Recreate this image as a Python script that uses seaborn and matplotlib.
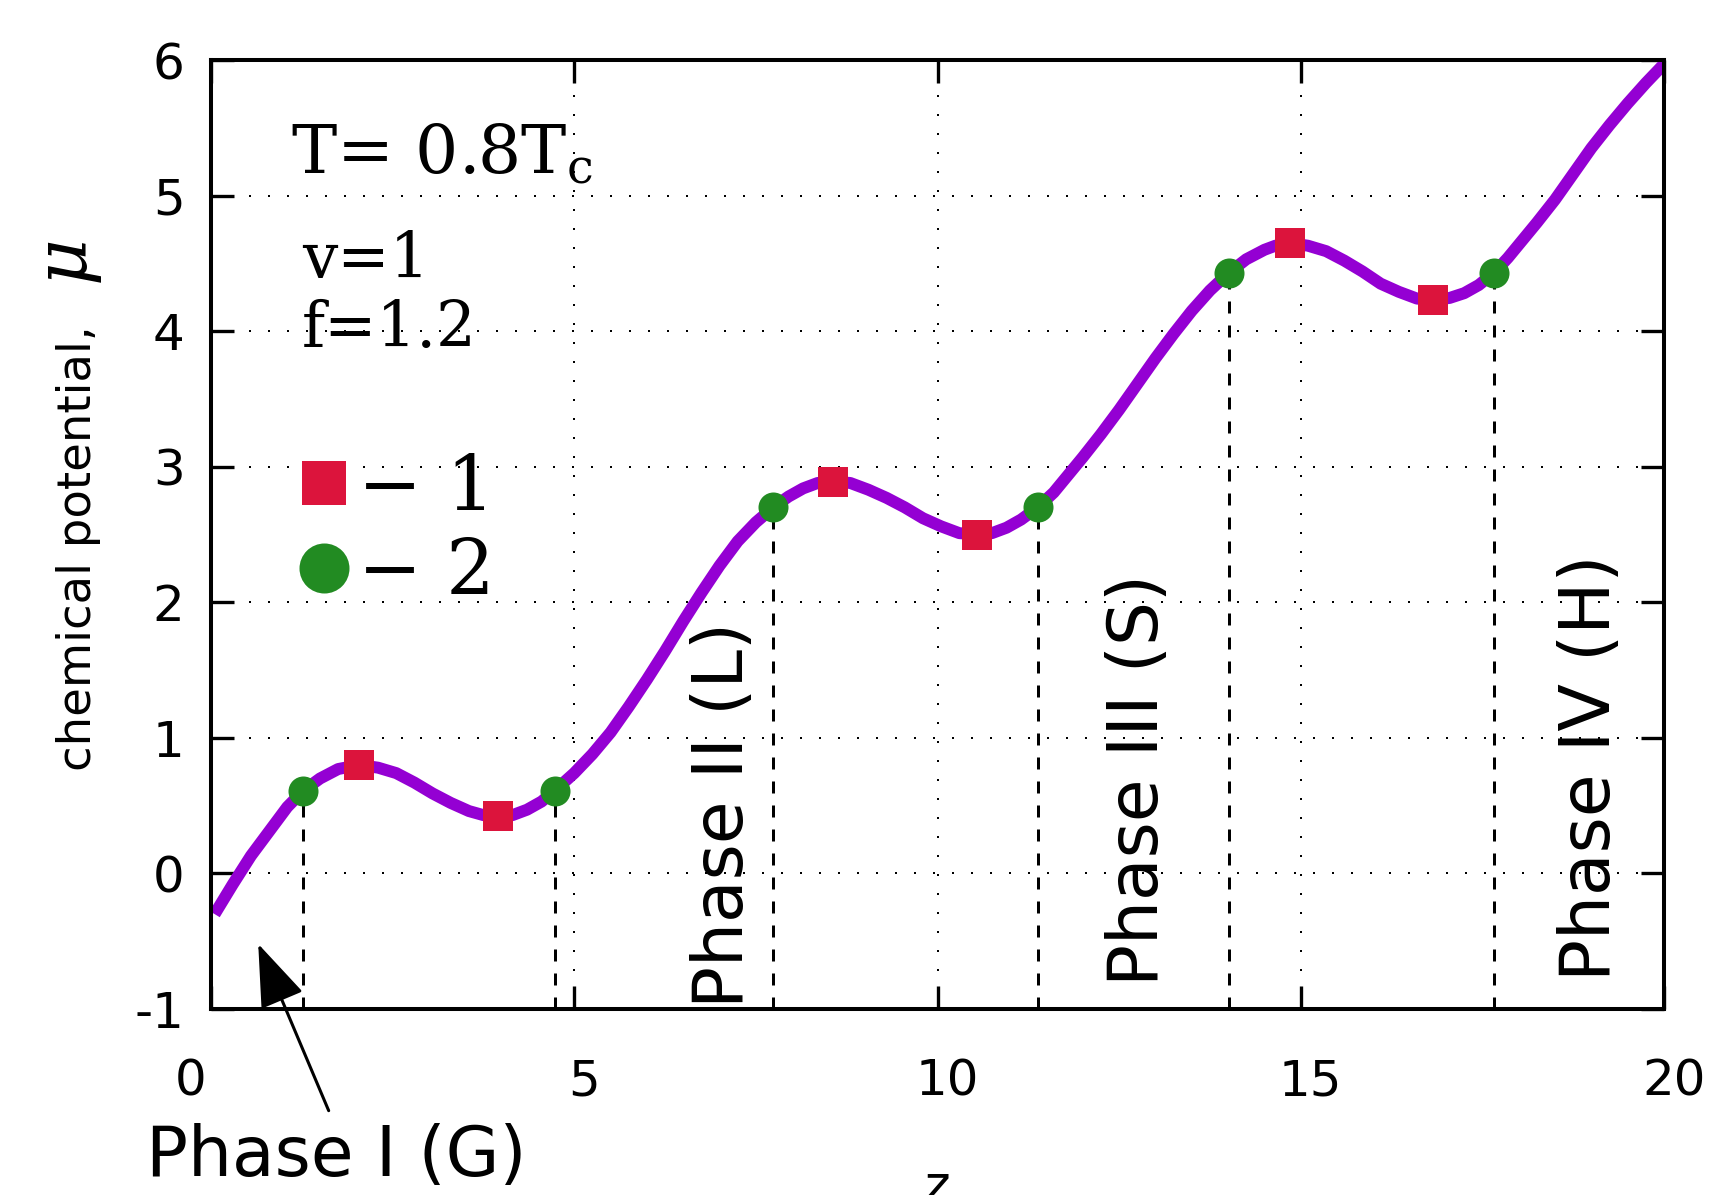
import matplotlib
matplotlib.use("Agg")
import matplotlib.pyplot as plt
import seaborn as sns
from matplotlib.lines import Line2D
from matplotlib.patches import ArrowStyle
from matplotlib.transforms import ScaledTranslation
from matplotlib import font_manager as fm

# ---------------- data ----------------
curve_z = [0.05, 0.30, 0.55, 0.80, 1.05, 1.27, 1.50, 1.75, 2.04, 2.30, 2.55, 2.80,
           3.05, 3.30, 3.55, 3.75, 3.95, 4.15, 4.35, 4.55, 4.73, 5.00, 5.25, 5.50,
           5.75, 6.00, 6.25, 6.50, 6.75, 7.00, 7.25, 7.50, 7.74, 7.95, 8.15, 8.35,
           8.56, 8.80, 9.05, 9.30, 9.55, 9.80, 10.05, 10.30, 10.54, 10.75, 10.95,
           11.15, 11.38, 11.60, 11.80, 12.00, 12.25, 12.50, 12.75, 13.00, 13.25,
           13.50, 13.75, 14.01, 14.25, 14.50, 14.65, 14.85, 15.10, 15.35, 15.60,
           15.85, 16.10, 16.35, 16.60, 16.82, 17.05, 17.25, 17.45, 17.66, 17.85,
           18.05, 18.25, 18.50, 18.75, 19.00, 19.25, 19.50, 19.75, 20.00]
curve_mu = [-0.30, -0.08, 0.13, 0.31, 0.49, 0.61, 0.70, 0.77, 0.80, 0.78, 0.74, 0.67,
            0.59, 0.52, 0.46, 0.43, 0.42, 0.43, 0.47, 0.53, 0.61, 0.74, 0.88, 1.04,
            1.23, 1.43, 1.64, 1.86, 2.07, 2.27, 2.45, 2.59, 2.70, 2.78, 2.84, 2.88,
            2.89, 2.88, 2.83, 2.77, 2.70, 2.62, 2.56, 2.51, 2.50, 2.51, 2.55,
            2.61, 2.70, 2.81, 2.94, 3.07, 3.24, 3.42, 3.61, 3.80, 3.98,
            4.15, 4.30, 4.43, 4.53, 4.60, 4.63, 4.65, 4.63, 4.59, 4.52,
            4.44, 4.35, 4.29, 4.24, 4.23, 4.245, 4.28, 4.34, 4.43, 4.54,
            4.67, 4.80, 4.97, 5.16, 5.35, 5.52, 5.68, 5.83, 5.97]

type1_z = [2.04, 3.95, 8.56, 10.54, 14.85, 16.82]     # red squares
type1_mu = [0.80, 0.42, 2.89, 2.50, 4.65, 4.23]
type2_z = [1.27, 4.73, 7.74, 11.38, 14.01, 17.66]     # green circles
type2_mu = [0.61, 0.61, 2.70, 2.70, 4.43, 4.43]

x_ticks = [0, 5, 10, 15, 20]
y_ticks = [-1, 0, 1, 2, 3, 4, 5, 6]
x_label = "z"
y_label = "chemical potential,"
y_symbol = "$\\mu$"
phase_labels = ["Phase I (G)", "Phase II (L)", "Phase III (S)", "Phase IV (H)"]
param_labels = ["T= 0.8T$_{\\rm c}$", "v=1", "f=1.2"]
legend_labels = ["\u2212 1", "\u2212 2"]

# ---------------- style ----------------
sns.set_style("ticks")
plt.rcParams['font.family'] = ['DejaVu Sans']
plt.rcParams['mathtext.fontset'] = 'dejavuserif'
for key in ['text.color', 'axes.labelcolor', 'xtick.color', 'ytick.color',
            'axes.edgecolor', 'xtick.labelcolor', 'ytick.labelcolor']:
    plt.rcParams[key] = 'black'

PURPLE = '#9400D3'
RED = '#DC143C'
GREEN = '#228B22'

fig = plt.figure(figsize=(17.11, 11.95), dpi=100)
ax = fig.add_axes([211 / 1711, 1 - 1009 / 1195, 1453 / 1711, 949 / 1195])

# grid
ax.set_axisbelow(True)
ax.grid(True, color='black', linestyle=(0, (1, 8.5)), linewidth=1.44)

# vertical dashed phase boundaries
ax.vlines(type2_z, y_ticks[0], type2_mu, colors='black',
          linestyles=(0, (4, 4)), linewidth=2.16, zorder=2)

# curve
sns.lineplot(x=curve_z, y=curve_mu, ax=ax, color=PURPLE, linewidth=8.6,
             sort=False, estimator=None, zorder=3)
ax.lines[-1].set_solid_capstyle('butt')
ax.lines[-1].set_solid_joinstyle('round')

# markers
sns.scatterplot(x=type1_z, y=type1_mu, ax=ax, marker='s', s=467, color=RED,
                linewidth=0, zorder=4)
sns.scatterplot(x=type2_z, y=type2_mu, ax=ax, marker='o', s=467, color=GREEN,
                linewidth=0, zorder=4)

ax.set_xlim(x_ticks[0], x_ticks[-1])
ax.set_ylim(y_ticks[0], y_ticks[-1])
ax.set_xticks(x_ticks)
ax.set_yticks(y_ticks)
ax.set_xticklabels([str(v) for v in x_ticks])
ax.set_yticklabels([str(v) for v in y_ticks])

for sp in ax.spines.values():
    sp.set_visible(True)
    sp.set_linewidth(2.9)
    sp.set_color('black')
    sp.set_zorder(5)

ax.tick_params(axis='both', direction='in', length=16.5, width=2.4, color='black',
               labelcolor='black', top=True, right=True, labelsize=36)
ax.tick_params(axis='x', pad=35)
ax.tick_params(axis='y', pad=19)

# gnuplot-like offsets of x tick labels
for v, lab in zip(x_ticks, ax.get_xticklabels()):
    dx = -0.20 if v == 0 else 0.10
    lab.set_transform(lab.get_transform() + ScaledTranslation(dx, 0, fig.dpi_scale_trans))

# axis labels
ax.set_xlabel(x_label, fontsize=35)
ax.xaxis.set_label_coords(0.5003, -0.162)
ax.set_ylabel(y_label, fontsize=33.5)
ax.yaxis.set_label_coords(-0.076, 0.486)
ax.text(-0.0736, 0.762, y_symbol, transform=ax.transAxes, rotation=90,
        ha='right', va='bottom', fontsize=52, clip_on=False)

# parameter texts (serif)
ax.text(1.10, 5.17, param_labels[0], family='DejaVu Serif', fontsize=49,
        ha='left', va='baseline', zorder=6)
ax.text(1.25, 4.39, param_labels[1], family='DejaVu Serif', fontsize=45,
        ha='left', va='baseline', zorder=6)
ax.text(1.25, 3.88, param_labels[2], family='DejaVu Serif', fontsize=45,
        ha='left', va='baseline', zorder=6)

# legend
handles = [Line2D([], [], marker='s', color=RED, markersize=31, linestyle='none',
                  markeredgewidth=0),
           Line2D([], [], marker='o', color=GREEN, markersize=36, linestyle='none',
                  markeredgewidth=0)]
leg = ax.legend(handles, legend_labels, loc='center left',
                bbox_to_anchor=(285.5 / 1711, 1 - 531 / 1195),
                bbox_transform=fig.transFigure, frameon=False, borderpad=0,
                borderaxespad=0, handlelength=1.0, handletextpad=-0.05,
                labelspacing=0.14, numpoints=1,
                prop=fm.FontProperties(family='DejaVu Serif', size=55))

# rotated phase labels
ax.text(7.05, -0.99, phase_labels[1], rotation=90, ha='center', va='bottom',
        fontsize=50, zorder=6)
ax.text(12.77, -0.83, phase_labels[2], rotation=90, ha='center', va='bottom',
        fontsize=50, zorder=6)
ax.text(18.99, -0.79, phase_labels[3], rotation=90, ha='center', va='bottom',
        fontsize=50, zorder=6)

# Phase I label with arrow
ax.text(-0.90, -2.23, phase_labels[0], ha='left', va='baseline',
        fontsize=50, clip_on=False)
ax.annotate("", xy=(0.65, -0.52), xytext=(1.62, -1.75),
            arrowprops=dict(arrowstyle=ArrowStyle('-|>', head_length=0.55, head_width=0.2),
                            mutation_scale=72, color='black', lw=2.2,
                            shrinkA=0, shrinkB=0),
            annotation_clip=False, zorder=6)

fig.savefig("out.png", dpi=100)
